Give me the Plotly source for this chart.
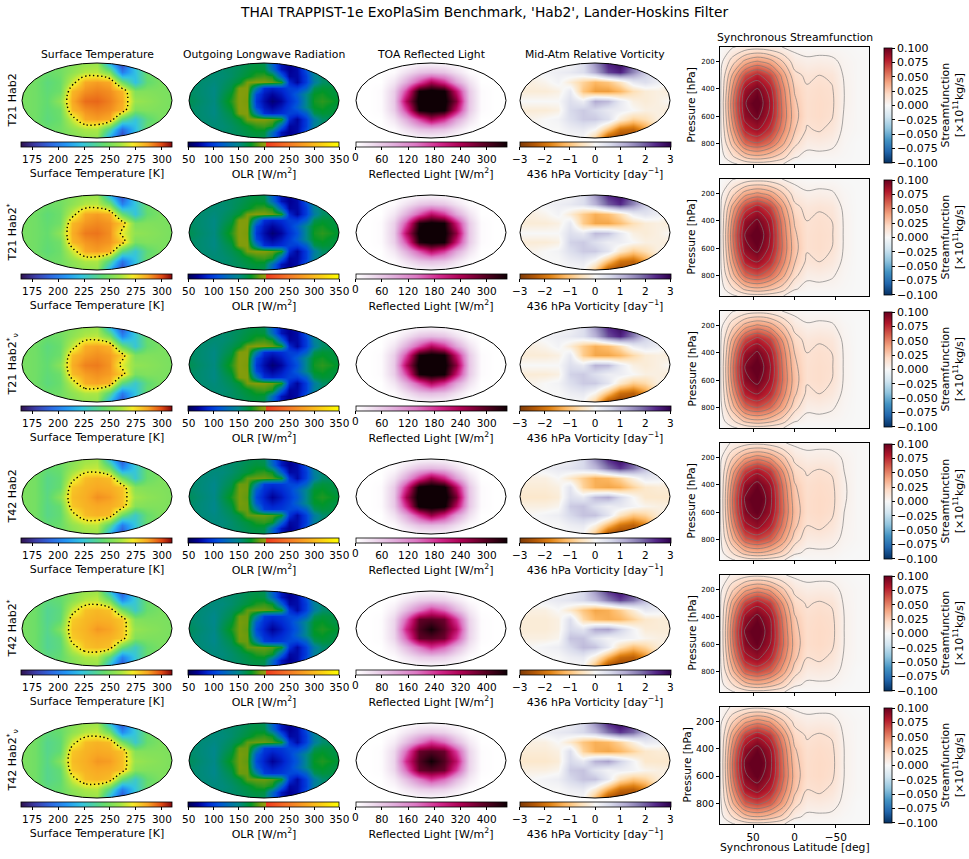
import plotly.graph_objects as go

# ==========================================
# Grids
# ==========================================

LON = [-180, -150, -120, -90, -60, -30, 0, 30, 60, 90, 120, 150, 180]
LAT = [90, 67.5, 45, 22.5, 0, -22.5, -45, -67.5, -90]
# finer grid used for the OLR crescent
LON_F = [-180, -160, -140, -120, -100, -80, -60, -40, -20, 0, 20, 40, 60, 80, 100, 120, 140, 160, 180]
LAT_F = [90, 75, 60, 45, 30, 15, 0, -15, -30, -45, -60, -75, -90]
SLAT = [90, 75, 60, 45, 30, 15, 0, -15, -30, -45, -60, -75, -90]
PRES = [93, 200, 300, 400, 500, 600, 700, 800, 900, 951]

ROW_LABELS = [
    "T21 Hab2", "T21 Hab2<sup>*</sup>", "T21 Hab2<sup>*</sup><sub>ν</sub>",
    "T42 Hab2", "T42 Hab2<sup>*</sup>", "T42 Hab2<sup>*</sup><sub>ν</sub>",
]
PANEL_TITLES = ["Surface Temperature", "Outgoing Longwave Radiation",
                "TOA Reflected Light", "Mid-Atm Relative Vorticity"]
CBAR_TITLES = ["Surface Temperature [K]", "OLR [W/m<sup>2</sup>]",
               "Reflected Light [W/m<sup>2</sup>]",
               "436 hPa Vorticity [day<sup>−1</sup>]"]

TS_TICKS = [175, 200, 225, 250, 275, 300]
OLR_TICKS = [50, 100, 150, 200, 250, 300, 350]
REFL_TICKS_A = [0, 60, 120, 180, 240, 300]
REFL_TICKS_B = [0, 80, 160, 240, 320, 400]
VORT_TICKS = [-3, -2, -1, 0, 1, 2, 3]
PSI_TICKS = [0.1, 0.075, 0.05, 0.025, 0.0, -0.025, -0.05, -0.075, -0.1]
LAT_TICKS = [50, 0, -50]
P_TICKS = [200, 400, 600, 800]

TS_RANGE = [165, 310]
OLR_RANGE = [50, 350]
REFL_MAX = [345, 345, 345, 345, 460, 460]
VORT_RANGE = [-3, 3]
PSI_RANGE = [-0.1, 0.1]

# ---- surface temperature [K]
TS_1 = [
    [250, 250, 250, 250, 252, 256, 258, 215, 180, 225, 248, 250, 250],
    [250, 250, 246, 248, 255, 263, 264, 250, 200, 222, 246, 250, 250],
    [249, 248, 242, 246, 266, 286, 288, 286, 248, 222, 244, 250, 250],
    [250, 248, 243, 247, 283, 290, 292, 290, 284, 252, 252, 251, 250],
    [250, 248, 244, 255, 286, 295, 296, 292, 286, 258, 255, 252, 250],
    [250, 248, 243, 247, 283, 290, 292, 290, 284, 251, 252, 251, 250],
    [249, 248, 242, 246, 266, 286, 288, 286, 243, 225, 242, 250, 249],
    [250, 250, 246, 248, 255, 262, 262, 236, 195, 220, 246, 250, 250],
    [250, 250, 250, 250, 252, 255, 256, 212, 178, 225, 248, 250, 250],
]
TS_2 = [
    [250, 250, 250, 250, 252, 256, 258, 218, 182, 226, 248, 250, 250],
    [250, 250, 247, 248, 255, 263, 264, 248, 202, 224, 246, 250, 250],
    [249, 248, 243, 247, 266, 286, 288, 285, 246, 224, 245, 250, 250],
    [250, 248, 244, 248, 283, 289, 291, 289, 280, 251, 252, 251, 250],
    [250, 248, 245, 255, 285, 293, 294, 290, 270, 256, 254, 252, 250],
    [250, 248, 244, 248, 283, 289, 291, 289, 280, 250, 252, 251, 250],
    [249, 248, 243, 247, 266, 286, 288, 285, 242, 226, 243, 250, 249],
    [250, 250, 247, 248, 255, 262, 262, 238, 198, 222, 246, 250, 250],
    [250, 250, 250, 250, 252, 255, 256, 214, 180, 226, 248, 250, 250],
]
TS_3 = [
    [250, 250, 250, 250, 252, 256, 258, 220, 184, 227, 248, 250, 250],
    [250, 250, 246, 248, 255, 263, 264, 248, 204, 225, 246, 250, 250],
    [249, 248, 242, 246, 265, 285, 287, 284, 246, 225, 245, 250, 250],
    [250, 248, 243, 247, 282, 288, 290, 288, 279, 251, 252, 251, 250],
    [250, 248, 244, 254, 285, 292, 293, 289, 269, 256, 254, 252, 250],
    [250, 248, 243, 247, 282, 288, 290, 288, 279, 250, 252, 251, 250],
    [249, 248, 242, 246, 265, 285, 287, 284, 242, 227, 243, 250, 249],
    [250, 250, 246, 248, 255, 262, 262, 239, 200, 223, 246, 250, 250],
    [250, 250, 250, 250, 252, 255, 256, 216, 182, 227, 248, 250, 250],
]
TS_4 = [
    [252, 252, 250, 249, 252, 258, 260, 220, 185, 228, 250, 252, 252],
    [252, 250, 244, 246, 256, 264, 265, 248, 205, 225, 246, 250, 252],
    [251, 249, 240, 244, 267, 282, 284, 282, 250, 226, 246, 251, 251],
    [251, 249, 240, 245, 280, 284, 286, 285, 281, 253, 252, 252, 251],
    [251, 249, 241, 254, 282, 285, 290, 288, 282, 259, 255, 253, 251],
    [251, 249, 240, 245, 280, 284, 286, 285, 281, 253, 252, 252, 251],
    [251, 249, 240, 244, 267, 282, 284, 282, 246, 228, 245, 251, 251],
    [252, 250, 244, 246, 256, 263, 264, 239, 200, 224, 246, 250, 252],
    [252, 252, 250, 249, 252, 257, 258, 216, 182, 228, 250, 252, 252],
]
TS_5 = [
    [252, 252, 250, 248, 251, 257, 259, 222, 186, 228, 250, 252, 252],
    [251, 249, 242, 244, 254, 263, 265, 248, 206, 226, 246, 250, 251],
    [250, 247, 238, 242, 266, 281, 283, 281, 250, 228, 246, 250, 250],
    [250, 247, 238, 243, 279, 283, 285, 284, 280, 252, 251, 251, 250],
    [250, 247, 239, 252, 281, 284, 289, 287, 281, 257, 254, 252, 250],
    [250, 247, 238, 243, 279, 283, 285, 284, 280, 252, 251, 251, 250],
    [250, 247, 238, 242, 266, 281, 283, 281, 246, 229, 245, 250, 250],
    [251, 249, 242, 244, 254, 262, 263, 240, 202, 225, 246, 250, 251],
    [252, 252, 250, 248, 251, 256, 257, 218, 184, 228, 250, 252, 252],
]
TS_6 = [
    [252, 252, 250, 249, 252, 257, 259, 221, 185, 228, 250, 252, 252],
    [252, 250, 243, 245, 255, 263, 265, 248, 205, 225, 246, 250, 252],
    [251, 248, 239, 243, 267, 282, 284, 282, 250, 227, 246, 251, 251],
    [251, 248, 239, 244, 280, 284, 286, 285, 281, 253, 252, 252, 251],
    [251, 248, 240, 253, 282, 285, 289, 288, 282, 258, 255, 253, 251],
    [251, 248, 239, 244, 280, 284, 286, 285, 281, 253, 252, 252, 251],
    [251, 248, 239, 243, 267, 282, 284, 282, 246, 228, 245, 251, 251],
    [252, 250, 243, 245, 255, 262, 263, 239, 201, 224, 246, 250, 252],
    [252, 252, 250, 249, 252, 256, 258, 217, 183, 228, 250, 252, 252],
]

# ---- outgoing longwave radiation [W/m2] on LAT_F x LON_F
# the three T21 runs are indistinguishable at this reading precision, as are the T42 runs
OLR_T21 = [
    [160, 160, 160, 160, 160, 160, 162, 165, 168, 165, 120, 80, 70, 80, 120, 155, 160, 160, 160],
    [160, 160, 160, 158, 158, 160, 163, 168, 172, 170, 130, 80, 68, 75, 110, 150, 160, 160, 160],
    [160, 160, 158, 156, 156, 160, 166, 172, 182, 185, 178, 120, 72, 74, 100, 145, 158, 160, 160],
    [160, 158, 156, 154, 158, 164, 172, 194, 197, 196, 192, 180, 90, 72, 100, 140, 160, 162, 162],
    [160, 158, 155, 152, 160, 168, 196, 197, 140, 92, 86, 92, 102, 100, 120, 165, 172, 170, 168],
    [162, 158, 155, 152, 163, 175, 198, 196, 105, 82, 72, 82, 98, 118, 150, 175, 178, 172, 168],
    [165, 160, 156, 153, 166, 180, 198, 194, 96, 76, 60, 72, 92, 110, 150, 178, 182, 178, 172],
    [162, 158, 155, 152, 163, 175, 198, 196, 105, 82, 72, 82, 98, 118, 150, 175, 178, 172, 168],
    [160, 158, 155, 152, 160, 168, 196, 197, 140, 92, 86, 92, 102, 100, 120, 165, 172, 170, 168],
    [160, 158, 156, 154, 158, 164, 172, 194, 197, 196, 192, 180, 90, 72, 100, 140, 160, 162, 162],
    [160, 160, 158, 156, 156, 160, 166, 172, 182, 185, 178, 120, 72, 74, 100, 145, 158, 160, 160],
    [160, 160, 160, 158, 158, 160, 163, 168, 172, 170, 130, 80, 68, 75, 110, 150, 160, 160, 160],
    [160, 160, 160, 160, 160, 160, 162, 165, 168, 165, 120, 80, 70, 80, 120, 155, 160, 160, 160],
]
OLR_T42 = [
    [158, 158, 158, 158, 158, 158, 160, 163, 166, 163, 120, 82, 70, 80, 118, 152, 158, 158, 158],
    [158, 158, 158, 156, 156, 158, 161, 166, 170, 168, 128, 82, 68, 76, 108, 148, 158, 158, 158],
    [158, 158, 156, 154, 154, 158, 164, 170, 180, 183, 176, 122, 74, 76, 100, 143, 156, 158, 158],
    [158, 156, 154, 152, 156, 162, 170, 190, 192, 192, 188, 176, 95, 75, 102, 140, 158, 160, 160],
    [158, 156, 153, 150, 158, 166, 192, 192, 146, 100, 94, 98, 106, 104, 122, 163, 170, 168, 166],
    [160, 156, 153, 150, 161, 172, 194, 192, 116, 92, 82, 90, 102, 122, 150, 173, 176, 170, 166],
    [163, 158, 154, 151, 164, 178, 194, 190, 106, 86, 70, 82, 98, 115, 150, 176, 180, 176, 170],
    [160, 156, 153, 150, 161, 172, 194, 192, 116, 92, 82, 90, 102, 122, 150, 173, 176, 170, 166],
    [158, 156, 153, 150, 158, 166, 192, 192, 146, 100, 94, 98, 106, 104, 122, 163, 170, 168, 166],
    [158, 156, 154, 152, 156, 162, 170, 190, 192, 192, 188, 176, 95, 75, 102, 140, 158, 160, 160],
    [158, 158, 156, 154, 154, 158, 164, 170, 180, 183, 176, 122, 74, 76, 100, 143, 156, 158, 158],
    [158, 158, 158, 156, 156, 158, 161, 166, 170, 168, 128, 82, 68, 76, 108, 148, 158, 158, 158],
    [158, 158, 158, 158, 158, 158, 160, 163, 166, 163, 120, 82, 70, 80, 118, 152, 158, 158, 158],
]

# ---- TOA reflected light [W/m2]
REFL_1 = [
    [0, 0, 0, 0, 0, 10, 12, 10, 0, 0, 0, 0, 0],
    [0, 0, 0, 5, 35, 65, 75, 65, 35, 5, 0, 0, 0],
    [0, 0, 0, 30, 90, 170, 240, 190, 100, 35, 0, 0, 0],
    [0, 0, 5, 55, 175, 345, 360, 350, 220, 60, 5, 0, 0],
    [0, 0, 5, 60, 235, 360, 370, 360, 270, 65, 5, 0, 0],
    [0, 0, 5, 55, 175, 345, 360, 350, 220, 60, 5, 0, 0],
    [0, 0, 0, 30, 90, 170, 240, 190, 100, 35, 0, 0, 0],
    [0, 0, 0, 5, 35, 65, 75, 65, 35, 5, 0, 0, 0],
    [0, 0, 0, 0, 0, 10, 12, 10, 0, 0, 0, 0, 0],
]
REFL_2 = [
    [0, 0, 0, 0, 0, 9, 11, 9, 0, 0, 0, 0, 0],
    [0, 0, 0, 5, 33, 62, 72, 62, 33, 5, 0, 0, 0],
    [0, 0, 0, 28, 86, 160, 225, 180, 95, 33, 0, 0, 0],
    [0, 0, 5, 52, 165, 335, 355, 345, 210, 58, 5, 0, 0],
    [0, 0, 5, 58, 225, 355, 368, 355, 260, 62, 5, 0, 0],
    [0, 0, 5, 52, 165, 335, 355, 345, 210, 58, 5, 0, 0],
    [0, 0, 0, 28, 86, 160, 225, 180, 95, 33, 0, 0, 0],
    [0, 0, 0, 5, 33, 62, 72, 62, 33, 5, 0, 0, 0],
    [0, 0, 0, 0, 0, 9, 11, 9, 0, 0, 0, 0, 0],
]
REFL_3 = [
    [0, 0, 0, 0, 0, 10, 12, 10, 0, 0, 0, 0, 0],
    [0, 0, 0, 5, 34, 64, 74, 64, 34, 5, 0, 0, 0],
    [0, 0, 0, 29, 88, 165, 232, 185, 98, 34, 0, 0, 0],
    [0, 0, 5, 54, 170, 340, 358, 348, 215, 59, 5, 0, 0],
    [0, 0, 5, 59, 230, 358, 369, 358, 265, 64, 5, 0, 0],
    [0, 0, 5, 54, 170, 340, 358, 348, 215, 59, 5, 0, 0],
    [0, 0, 0, 29, 88, 165, 232, 185, 98, 34, 0, 0, 0],
    [0, 0, 0, 5, 34, 64, 74, 64, 34, 5, 0, 0, 0],
    [0, 0, 0, 0, 0, 10, 12, 10, 0, 0, 0, 0, 0],
]
REFL_4 = [
    [0, 0, 0, 0, 0, 11, 13, 11, 0, 0, 0, 0, 0],
    [0, 0, 0, 6, 38, 68, 78, 68, 38, 6, 0, 0, 0],
    [0, 0, 0, 32, 95, 185, 255, 200, 105, 36, 0, 0, 0],
    [0, 0, 5, 58, 190, 355, 365, 355, 230, 62, 5, 0, 0],
    [0, 0, 5, 62, 245, 365, 375, 365, 280, 66, 5, 0, 0],
    [0, 0, 5, 58, 190, 355, 365, 355, 230, 62, 5, 0, 0],
    [0, 0, 0, 32, 95, 185, 255, 200, 105, 36, 0, 0, 0],
    [0, 0, 0, 6, 38, 68, 78, 68, 38, 6, 0, 0, 0],
    [0, 0, 0, 0, 0, 11, 13, 11, 0, 0, 0, 0, 0],
]
REFL_5 = [
    [0, 0, 0, 0, 0, 10, 12, 10, 0, 0, 0, 0, 0],
    [0, 0, 0, 5, 38, 70, 80, 70, 38, 5, 0, 0, 0],
    [0, 0, 0, 32, 100, 180, 250, 200, 110, 36, 0, 0, 0],
    [0, 0, 5, 60, 200, 385, 395, 375, 240, 64, 5, 0, 0],
    [0, 0, 5, 65, 260, 405, 455, 395, 300, 70, 5, 0, 0],
    [0, 0, 5, 60, 200, 385, 395, 375, 240, 64, 5, 0, 0],
    [0, 0, 0, 32, 100, 180, 250, 200, 110, 36, 0, 0, 0],
    [0, 0, 0, 5, 38, 70, 80, 70, 38, 5, 0, 0, 0],
    [0, 0, 0, 0, 0, 10, 12, 10, 0, 0, 0, 0, 0],
]
REFL_6 = [
    [0, 0, 0, 0, 0, 9, 11, 9, 0, 0, 0, 0, 0],
    [0, 0, 0, 5, 36, 67, 78, 67, 36, 5, 0, 0, 0],
    [0, 0, 0, 30, 96, 175, 245, 195, 106, 34, 0, 0, 0],
    [0, 0, 5, 58, 195, 380, 398, 378, 235, 62, 5, 0, 0],
    [0, 0, 5, 63, 255, 400, 460, 400, 295, 68, 5, 0, 0],
    [0, 0, 5, 58, 195, 380, 398, 378, 235, 62, 5, 0, 0],
    [0, 0, 0, 30, 96, 175, 245, 195, 106, 34, 0, 0, 0],
    [0, 0, 0, 5, 36, 67, 78, 67, 36, 5, 0, 0, 0],
    [0, 0, 0, 0, 0, 9, 11, 9, 0, 0, 0, 0, 0],
]

# ---- 436 hPa relative vorticity [1/day]
VORT_1 = [
    [0.0, 0.0, 0.0, 0.0, 0.0, 0.5, 1.5, 2.5, 2.8, 2.0, 1.0, 0.4, 0.0],
    [0.0, 0.0, 0.1, 0.2, 0.3, 0.5, 1.2, 2.2, 2.5, 1.6, 0.8, 0.3, 0.0],
    [-0.2, -0.2, -0.1, 0.1, -0.3, -0.8, -1.2, -1.0, -0.5, 0.3, 0.5, 0.2, -0.2],
    [-0.3, -0.3, -0.3, -0.2, 0.3, -1.0, -1.5, -1.5, -1.2, -0.6, -0.3, -0.2, -0.3],
    [0.0, 0.0, 0.0, 0.0, 0.5, 0.2, 1.2, 1.0, 0.3, -0.2, -0.3, -0.2, 0.0],
    [-0.3, -0.3, -0.3, -0.2, 0.6, 0.8, 0.6, 0.3, 0.2, 0.0, -0.2, -0.2, -0.3],
    [-0.1, -0.1, 0.0, 0.1, 0.5, 0.8, 0.8, 0.5, -0.3, -0.8, -0.6, -0.2, -0.1],
    [0.0, 0.0, 0.0, 0.0, 0.2, 0.3, 0.0, -1.0, -2.0, -2.2, -1.5, -0.5, 0.0],
    [0.0, 0.0, 0.0, 0.0, 0.0, 0.0, -0.8, -2.5, -2.8, -2.5, -1.5, -0.5, 0.0],
]
VORT_2 = [
    [0.0, 0.0, 0.0, 0.0, 0.1, 0.5, 1.4, 2.4, 2.7, 2.0, 1.0, 0.4, 0.0],
    [0.0, 0.0, 0.1, 0.2, 0.3, 0.5, 1.1, 2.0, 2.4, 1.6, 0.8, 0.3, 0.0],
    [-0.2, -0.2, -0.1, 0.1, -0.3, -0.9, -1.3, -1.1, -0.6, 0.2, 0.4, 0.2, -0.2],
    [-0.3, -0.3, -0.3, -0.2, 0.3, -0.9, -1.4, -1.4, -1.1, -0.6, -0.3, -0.2, -0.3],
    [0.0, 0.0, 0.0, 0.0, 0.5, 0.3, 1.0, 0.9, 0.3, -0.2, -0.3, -0.2, 0.0],
    [-0.3, -0.3, -0.3, -0.2, 0.7, 0.8, 0.5, 0.2, 0.2, 0.0, -0.2, -0.2, -0.3],
    [-0.1, -0.1, 0.0, 0.1, 0.5, 0.8, 0.8, 0.4, -0.4, -0.9, -0.6, -0.2, -0.1],
    [0.0, 0.0, 0.0, 0.0, 0.2, 0.3, -0.1, -1.1, -2.0, -2.2, -1.5, -0.5, 0.0],
    [0.0, 0.0, 0.0, 0.0, 0.0, 0.0, -0.9, -2.5, -2.8, -2.5, -1.5, -0.5, 0.0],
]
VORT_3 = [
    [0.0, 0.0, 0.0, 0.0, 0.1, 0.5, 1.4, 2.4, 2.8, 2.1, 1.0, 0.4, 0.0],
    [0.0, 0.0, 0.1, 0.2, 0.3, 0.5, 1.1, 2.1, 2.5, 1.7, 0.8, 0.3, 0.0],
    [-0.2, -0.2, -0.1, 0.1, -0.3, -0.9, -1.3, -1.1, -0.6, 0.2, 0.4, 0.2, -0.2],
    [-0.3, -0.3, -0.3, -0.2, 0.3, -0.9, -1.4, -1.4, -1.2, -0.7, -0.3, -0.2, -0.3],
    [0.0, 0.0, 0.0, 0.0, 0.5, 0.3, 1.1, 1.0, 0.3, -0.2, -0.3, -0.2, 0.0],
    [-0.3, -0.3, -0.3, -0.2, 0.7, 0.8, 0.5, 0.2, 0.2, 0.0, -0.2, -0.2, -0.3],
    [-0.1, -0.1, 0.0, 0.1, 0.5, 0.8, 0.8, 0.4, -0.4, -0.9, -0.7, -0.2, -0.1],
    [0.0, 0.0, 0.0, 0.0, 0.2, 0.3, -0.1, -1.1, -2.1, -2.3, -1.6, -0.5, 0.0],
    [0.0, 0.0, 0.0, 0.0, 0.0, 0.0, -0.9, -2.6, -2.9, -2.6, -1.6, -0.5, 0.0],
]
VORT_4 = [
    [0.0, 0.0, 0.0, 0.0, 0.2, 0.6, 1.5, 2.4, 2.8, 2.2, 1.2, 0.5, 0.0],
    [0.1, 0.1, 0.2, 0.3, 0.4, 0.6, 1.0, 1.8, 2.3, 1.8, 1.0, 0.4, 0.1],
    [-0.2, -0.2, -0.2, 0.0, -0.4, -0.9, -1.3, -1.2, -0.8, -0.2, 0.3, 0.2, -0.2],
    [-0.3, -0.3, -0.3, -0.2, 0.4, -0.8, -1.3, -1.4, -1.3, -0.8, -0.4, -0.3, -0.3],
    [-0.4, -0.4, -0.4, -0.3, 0.5, 0.3, 1.0, 1.2, 0.6, 0.0, -0.4, -0.4, -0.4],
    [-0.2, -0.2, -0.2, -0.1, 0.8, 0.9, 0.5, 0.2, 0.3, 0.1, -0.1, -0.2, -0.2],
    [0.0, 0.0, 0.1, 0.2, 0.6, 0.9, 0.9, 0.4, -0.5, -1.0, -0.8, -0.3, 0.0],
    [0.0, 0.0, 0.0, 0.0, 0.2, 0.3, -0.2, -1.2, -2.0, -2.3, -1.8, -0.6, 0.0],
    [0.0, 0.0, 0.0, 0.0, 0.0, 0.0, -1.0, -2.6, -2.9, -2.6, -1.6, -0.5, 0.0],
]
VORT_5 = [
    [0.0, 0.0, 0.0, 0.0, 0.2, 0.6, 1.4, 2.3, 2.7, 2.2, 1.2, 0.5, 0.0],
    [0.1, 0.1, 0.2, 0.3, 0.4, 0.6, 1.0, 1.7, 2.2, 1.8, 1.0, 0.4, 0.1],
    [-0.2, -0.2, -0.2, 0.0, -0.4, -1.0, -1.4, -1.3, -0.9, -0.3, 0.3, 0.2, -0.2],
    [-0.3, -0.3, -0.3, -0.2, 0.5, -0.7, -1.2, -1.3, -1.2, -0.8, -0.4, -0.3, -0.3],
    [-0.3, -0.3, -0.3, -0.2, 0.6, 0.4, 1.2, 1.3, 0.7, 0.1, -0.3, -0.3, -0.3],
    [-0.2, -0.2, -0.2, -0.1, 0.9, 0.9, 0.4, 0.1, 0.2, 0.1, -0.1, -0.2, -0.2],
    [0.0, 0.0, 0.1, 0.2, 0.6, 1.0, 0.9, 0.3, -0.6, -1.1, -0.8, -0.3, 0.0],
    [0.0, 0.0, 0.0, 0.0, 0.2, 0.3, -0.3, -1.3, -2.1, -2.3, -1.7, -0.6, 0.0],
    [0.0, 0.0, 0.0, 0.0, 0.0, 0.0, -1.1, -2.6, -2.9, -2.6, -1.6, -0.5, 0.0],
]
VORT_6 = [
    [0.0, 0.0, 0.0, 0.0, 0.2, 0.6, 1.5, 2.4, 2.8, 2.3, 1.2, 0.5, 0.0],
    [0.1, 0.1, 0.2, 0.3, 0.4, 0.6, 1.0, 1.8, 2.3, 1.9, 1.0, 0.4, 0.1],
    [-0.2, -0.2, -0.2, 0.0, -0.4, -1.0, -1.3, -1.2, -0.8, -0.2, 0.3, 0.2, -0.2],
    [-0.3, -0.3, -0.3, -0.2, 0.5, -0.8, -1.3, -1.4, -1.2, -0.8, -0.4, -0.3, -0.3],
    [-0.4, -0.4, -0.4, -0.3, 0.6, 0.3, 1.1, 1.3, 0.7, 0.1, -0.4, -0.4, -0.4],
    [-0.2, -0.2, -0.2, -0.1, 0.8, 0.9, 0.4, 0.1, 0.2, 0.1, -0.1, -0.2, -0.2],
    [0.0, 0.0, 0.1, 0.2, 0.6, 0.9, 0.9, 0.3, -0.6, -1.0, -0.8, -0.3, 0.0],
    [0.0, 0.0, 0.0, 0.0, 0.2, 0.3, -0.3, -1.3, -2.1, -2.3, -1.8, -0.6, 0.0],
    [0.0, 0.0, 0.0, 0.0, 0.0, 0.0, -1.1, -2.6, -2.9, -2.6, -1.6, -0.5, 0.0],
]

# ---- synchronous streamfunction [1e11 kg/s], rows = PRES, cols = SLAT
PSI_1 = [
    [0.000, 0.004, 0.008, 0.010, 0.008, 0.005, 0.002, 0.001, 0.001, 0.001, 0.001, 0.000, 0.000],
    [0.001, 0.020, 0.038, 0.046, 0.040, 0.026, 0.010, 0.007, 0.008, 0.007, 0.003, 0.001, 0.000],
    [0.002, 0.036, 0.066, 0.078, 0.066, 0.042, 0.018, 0.013, 0.015, 0.013, 0.004, 0.001, 0.000],
    [0.002, 0.046, 0.086, 0.096, 0.080, 0.050, 0.024, 0.016, 0.018, 0.016, 0.005, 0.001, 0.000],
    [0.002, 0.052, 0.094, 0.104, 0.085, 0.053, 0.027, 0.017, 0.019, 0.017, 0.005, 0.001, 0.000],
    [0.002, 0.049, 0.090, 0.098, 0.082, 0.054, 0.029, 0.017, 0.019, 0.016, 0.004, 0.001, 0.000],
    [0.002, 0.041, 0.077, 0.085, 0.072, 0.049, 0.026, 0.014, 0.016, 0.012, 0.003, 0.001, 0.000],
    [0.001, 0.029, 0.057, 0.064, 0.055, 0.038, 0.018, 0.008, 0.009, 0.007, 0.002, 0.000, 0.000],
    [0.000, 0.013, 0.026, 0.031, 0.027, 0.019, 0.006, 0.002, 0.002, 0.002, 0.001, 0.000, 0.000],
    [0.000, 0.003, 0.008, 0.010, 0.009, 0.006, -0.004, 0.000, 0.000, 0.000, 0.000, 0.000, 0.000],
]
PSI_2 = [
    [0.000, 0.004, 0.008, 0.010, 0.009, 0.005, 0.002, 0.001, 0.001, 0.001, 0.000, 0.000, 0.000],
    [0.001, 0.021, 0.040, 0.047, 0.041, 0.027, 0.010, 0.006, 0.007, 0.006, 0.002, 0.000, 0.000],
    [0.002, 0.038, 0.068, 0.080, 0.068, 0.043, 0.018, 0.012, 0.014, 0.012, 0.003, 0.000, 0.000],
    [0.002, 0.048, 0.088, 0.097, 0.082, 0.051, 0.024, 0.015, 0.017, 0.015, 0.004, 0.000, 0.000],
    [0.002, 0.053, 0.095, 0.105, 0.086, 0.054, 0.027, 0.016, 0.018, 0.016, 0.004, 0.000, 0.000],
    [0.002, 0.050, 0.091, 0.099, 0.083, 0.055, 0.029, 0.016, 0.018, 0.015, 0.004, 0.000, 0.000],
    [0.002, 0.042, 0.078, 0.086, 0.073, 0.050, 0.026, 0.013, 0.015, 0.011, 0.003, 0.000, 0.000],
    [0.001, 0.030, 0.058, 0.065, 0.056, 0.039, 0.018, 0.007, 0.008, 0.006, 0.002, 0.000, 0.000],
    [0.000, 0.013, 0.027, 0.032, 0.028, 0.020, 0.006, 0.002, 0.002, 0.002, 0.001, 0.000, 0.000],
    [0.000, 0.003, 0.008, 0.010, 0.009, 0.006, -0.003, 0.000, 0.000, 0.000, 0.000, 0.000, 0.000],
]
PSI_3 = [
    [0.000, 0.004, 0.008, 0.010, 0.009, 0.005, 0.002, 0.001, 0.001, 0.001, 0.000, 0.000, 0.000],
    [0.001, 0.021, 0.039, 0.047, 0.041, 0.027, 0.011, 0.006, 0.007, 0.006, 0.002, 0.000, 0.000],
    [0.002, 0.037, 0.067, 0.079, 0.068, 0.044, 0.019, 0.012, 0.014, 0.012, 0.003, 0.000, 0.000],
    [0.002, 0.047, 0.087, 0.097, 0.082, 0.052, 0.025, 0.015, 0.017, 0.015, 0.004, 0.000, 0.000],
    [0.002, 0.052, 0.095, 0.104, 0.087, 0.055, 0.028, 0.016, 0.018, 0.016, 0.004, 0.000, 0.000],
    [0.002, 0.050, 0.091, 0.099, 0.084, 0.056, 0.030, 0.016, 0.018, 0.015, 0.004, 0.000, 0.000],
    [0.002, 0.042, 0.078, 0.086, 0.074, 0.051, 0.027, 0.013, 0.015, 0.011, 0.003, 0.000, 0.000],
    [0.001, 0.030, 0.058, 0.065, 0.057, 0.040, 0.019, 0.007, 0.008, 0.006, 0.002, 0.000, 0.000],
    [0.000, 0.013, 0.027, 0.032, 0.028, 0.020, 0.006, 0.002, 0.002, 0.002, 0.001, 0.000, 0.000],
    [0.000, 0.003, 0.008, 0.010, 0.009, 0.006, -0.003, 0.000, 0.000, 0.000, 0.000, 0.000, 0.000],
]
PSI_4 = [
    [0.001, 0.006, 0.010, 0.012, 0.010, 0.006, 0.003, 0.002, 0.002, 0.002, 0.001, 0.001, 0.000],
    [0.002, 0.024, 0.042, 0.050, 0.044, 0.029, 0.012, 0.008, 0.009, 0.008, 0.004, 0.001, 0.000],
    [0.003, 0.040, 0.070, 0.082, 0.071, 0.046, 0.020, 0.014, 0.016, 0.014, 0.005, 0.001, 0.000],
    [0.003, 0.050, 0.089, 0.099, 0.086, 0.055, 0.026, 0.017, 0.019, 0.017, 0.006, 0.001, 0.000],
    [0.003, 0.055, 0.096, 0.106, 0.090, 0.058, 0.029, 0.018, 0.020, 0.018, 0.006, 0.001, 0.000],
    [0.003, 0.053, 0.093, 0.101, 0.087, 0.059, 0.031, 0.018, 0.020, 0.017, 0.005, 0.001, 0.000],
    [0.003, 0.045, 0.081, 0.089, 0.077, 0.053, 0.028, 0.015, 0.017, 0.013, 0.004, 0.001, 0.000],
    [0.002, 0.033, 0.061, 0.068, 0.060, 0.042, 0.020, 0.009, 0.010, 0.008, 0.003, 0.001, 0.000],
    [0.001, 0.015, 0.029, 0.034, 0.030, 0.022, 0.007, 0.003, 0.003, 0.003, 0.001, 0.000, 0.000],
    [0.000, 0.004, 0.009, 0.011, 0.010, 0.007, -0.003, 0.001, 0.001, 0.001, 0.000, 0.000, 0.000],
]
PSI_5 = [
    [0.001, 0.006, 0.010, 0.012, 0.010, 0.006, 0.003, 0.002, 0.002, 0.002, 0.001, 0.000, 0.000],
    [0.002, 0.023, 0.041, 0.049, 0.043, 0.028, 0.012, 0.008, 0.009, 0.008, 0.003, 0.001, 0.000],
    [0.003, 0.039, 0.069, 0.081, 0.070, 0.045, 0.020, 0.014, 0.016, 0.014, 0.004, 0.001, 0.000],
    [0.003, 0.049, 0.088, 0.098, 0.085, 0.054, 0.026, 0.017, 0.019, 0.017, 0.005, 0.001, 0.000],
    [0.003, 0.054, 0.096, 0.105, 0.089, 0.057, 0.029, 0.018, 0.020, 0.018, 0.005, 0.001, 0.000],
    [0.003, 0.052, 0.092, 0.100, 0.086, 0.058, 0.031, 0.018, 0.020, 0.017, 0.005, 0.001, 0.000],
    [0.003, 0.044, 0.080, 0.088, 0.076, 0.052, 0.028, 0.015, 0.017, 0.013, 0.004, 0.001, 0.000],
    [0.002, 0.032, 0.060, 0.067, 0.059, 0.041, 0.020, 0.009, 0.010, 0.008, 0.003, 0.000, 0.000],
    [0.001, 0.014, 0.028, 0.033, 0.029, 0.021, 0.007, 0.003, 0.003, 0.003, 0.001, 0.000, 0.000],
    [0.000, 0.004, 0.009, 0.011, 0.010, 0.007, -0.003, 0.001, 0.001, 0.001, 0.000, 0.000, 0.000],
]
PSI_6 = [
    [0.001, 0.006, 0.010, 0.012, 0.010, 0.006, 0.003, 0.002, 0.002, 0.002, 0.001, 0.000, 0.000],
    [0.002, 0.024, 0.042, 0.050, 0.044, 0.028, 0.012, 0.008, 0.009, 0.008, 0.003, 0.001, 0.000],
    [0.003, 0.040, 0.070, 0.082, 0.071, 0.046, 0.020, 0.014, 0.016, 0.014, 0.004, 0.001, 0.000],
    [0.003, 0.050, 0.089, 0.099, 0.086, 0.055, 0.026, 0.017, 0.019, 0.017, 0.005, 0.001, 0.000],
    [0.003, 0.055, 0.097, 0.106, 0.090, 0.058, 0.029, 0.018, 0.020, 0.018, 0.005, 0.001, 0.000],
    [0.003, 0.053, 0.093, 0.101, 0.087, 0.059, 0.031, 0.018, 0.020, 0.017, 0.005, 0.001, 0.000],
    [0.003, 0.045, 0.081, 0.089, 0.077, 0.053, 0.028, 0.015, 0.017, 0.013, 0.004, 0.001, 0.000],
    [0.002, 0.033, 0.061, 0.068, 0.060, 0.042, 0.020, 0.009, 0.010, 0.008, 0.003, 0.000, 0.000],
    [0.001, 0.015, 0.029, 0.034, 0.030, 0.022, 0.007, 0.003, 0.003, 0.003, 0.001, 0.000, 0.000],
    [0.000, 0.004, 0.009, 0.011, 0.010, 0.007, -0.003, 0.001, 0.001, 0.001, 0.000, 0.000, 0.000],
]

TS = [TS_1, TS_2, TS_3, TS_4, TS_5, TS_6]
OLR = [OLR_T21, OLR_T21, OLR_T21, OLR_T42, OLR_T42, OLR_T42]
REFL = [REFL_1, REFL_2, REFL_3, REFL_4, REFL_5, REFL_6]
VORT = [VORT_1, VORT_2, VORT_3, VORT_4, VORT_5, VORT_6]
PSI = [PSI_1, PSI_2, PSI_3, PSI_4, PSI_5, PSI_6]

# ==========================================
# Colour maps
# ==========================================

TS_CS = [[0.0, "rgb(48,18,80)"], [0.1, "rgb(60,62,170)"], [0.2, "rgb(45,105,225)"],
         [0.3, "rgb(35,150,245)"], [0.4, "rgb(50,195,225)"], [0.55, "rgb(100,220,110)"],
         [0.66, "rgb(165,230,70)"], [0.74, "rgb(245,235,40)"], [0.84, "rgb(248,165,35)"],
         [0.93, "rgb(225,75,20)"], [1.0, "rgb(130,5,10)"]]
OLR_CS = [[0.0, "rgb(0,0,80)"], [0.067, "rgb(0,0,150)"], [0.133, "rgb(0,40,210)"],
          [0.2, "rgb(0,80,220)"], [0.267, "rgb(0,110,180)"], [0.333, "rgb(0,135,140)"],
          [0.417, "rgb(0,150,40)"], [0.483, "rgb(125,155,10)"], [0.516, "rgb(150,158,20)"],
          [0.52, "rgb(240,60,30)"], [0.667, "rgb(245,120,40)"], [0.833, "rgb(250,185,30)"],
          [1.0, "rgb(255,255,0)"]]
REFL_CS = [[0.0, "rgb(255,255,255)"], [0.1, "rgb(240,225,240)"], [0.25, "rgb(225,175,220)"],
           [0.4, "rgb(220,120,195)"], [0.55, "rgb(210,40,140)"], [0.7, "rgb(170,0,80)"],
           [0.85, "rgb(90,0,35)"], [1.0, "rgb(15,0,5)"]]
VORT_CS = [[0.0, "rgb(127,59,8)"], [0.1, "rgb(179,88,6)"], [0.2, "rgb(224,130,20)"],
           [0.3, "rgb(253,184,99)"], [0.4, "rgb(254,224,182)"], [0.5, "rgb(247,247,247)"],
           [0.6, "rgb(216,218,235)"], [0.7, "rgb(178,171,210)"], [0.8, "rgb(128,115,172)"],
           [0.9, "rgb(84,39,136)"], [1.0, "rgb(45,0,75)"]]
PSI_CS = [[0.0, "rgb(5,48,97)"], [0.1, "rgb(33,102,172)"], [0.2, "rgb(67,147,195)"],
          [0.3, "rgb(146,197,222)"], [0.4, "rgb(209,229,240)"], [0.5, "rgb(247,247,247)"],
          [0.6, "rgb(253,219,199)"], [0.7, "rgb(244,165,130)"], [0.8, "rgb(214,96,77)"],
          [0.9, "rgb(178,24,43)"], [1.0, "rgb(103,0,31)"]]

# ==========================================
# Layout geometry (pixels)
# ==========================================

W, H = 969, 859
FONT = "DejaVu Sans"
MAP_LEFT = [22, 189, 356, 520]
MAP_W, MAP_H = 150, 75
MAP_TOP = 63
ROW_STEP = 132
PAD = 2
XR = 180 + PAD * 360 / MAP_W
YR = 90 + PAD * 180 / MAP_H
CB_TOP = 142
CB_LABEL_DY = 15
SF_LEFT, SF_RIGHT = 720, 869
SF_TOP, SF_BOT = 47, 164
K = 0.5523

MASK_PATH = (
    f"M {-XR},{-YR} L {XR},{-YR} L {XR},{YR} L {-XR},{YR} Z "
    f"M 180,0 C 180,{K*90} {K*180},90 0,90 C {-K*180},90 -180,{K*90} -180,0 "
    f"C -180,{-K*90} {-K*180},-90 0,-90 C {K*180},-90 180,{-K*90} 180,0 Z"
)


def px(x):
    return x / W


def py(y):
    return 1 - y / H


def widen(zr):
    # a hair of slack so the end ticks are never clipped off the colour bar
    eps = (zr[1] - zr[0]) * 1e-3
    return zr[0] - eps, zr[1] + eps


def hbar(left, top, ticks, labels, title):
    return dict(
        orientation="h", x=px(left + MAP_W / 2), xanchor="center",
        y=py(top), yanchor="top", len=MAP_W + 1, lenmode="pixels",
        thickness=5, xpad=0, ypad=0, outlinewidth=0.8, outlinecolor="black",
        ticks="outside", ticklen=3, tickwidth=0.8, tickcolor="black",
        tickmode="array", tickvals=ticks, ticktext=labels,
        ticklabeloverflow="allow",
        tickfont=dict(family=FONT, size=10.5, color="black"),
        title=dict(text=title, side="bottom",
                   font=dict(family=FONT, size=11, color="black")),
    )


fig = go.Figure()
layout = {}
shapes = []
annotations = []
count = [0]


def new_axes():
    count[0] += 1
    s = "" if count[0] == 1 else str(count[0])
    return "x" + s, "y" + s, "xaxis" + s, "yaxis" + s


def tick_labels(ticks):
    return [f"{t:g}".replace("-", "−") for t in ticks]


for r in range(6):
    top = MAP_TOP + ROW_STEP * r
    refl_ticks = REFL_TICKS_A if REFL_MAX[r] < 400 else REFL_TICKS_B
    # plotly drops the "0" at the reflected-light bar's left end, so it is
    # written as a plain label right under that end instead
    refl_labels = [""] + tick_labels(refl_ticks[1:])
    fields = [
        (LON, LAT, TS[r], TS_CS, TS_RANGE, TS_TICKS, tick_labels(TS_TICKS)),
        (LON_F, LAT_F, OLR[r], OLR_CS, OLR_RANGE, OLR_TICKS, tick_labels(OLR_TICKS)),
        (LON, LAT, REFL[r], REFL_CS, [0, REFL_MAX[r]], refl_ticks, refl_labels),
        (LON, LAT, VORT[r], VORT_CS, VORT_RANGE, VORT_TICKS, tick_labels(VORT_TICKS)),
    ]
    for c, (gx, gy, grid, cs, zr, ticks, labels) in enumerate(fields):
        xa, ya, xk, yk = new_axes()
        left = MAP_LEFT[c]
        zlo, zhi = widen(zr)
        layout[xk] = dict(domain=[px(left - PAD), px(left + MAP_W + PAD)],
                          range=[-XR, XR], visible=False, anchor=ya, fixedrange=True)
        layout[yk] = dict(domain=[py(top + MAP_H + PAD), py(top - PAD)],
                          range=[-YR, YR], visible=False, anchor=xa, fixedrange=True)
        fig.add_trace(go.Heatmap(
            x=gx, y=gy[::-1], z=grid[::-1], xaxis=xa, yaxis=ya,
            zmin=zlo, zmax=zhi, colorscale=cs, zsmooth="best",
            hoverinfo="skip",
            colorbar=hbar(left, CB_TOP + ROW_STEP * r, ticks, labels, CBAR_TITLES[c]),
        ))
        if c == 0:
            fig.add_trace(go.Contour(
                x=gx, y=gy[::-1], z=grid[::-1], xaxis=xa, yaxis=ya,
                showscale=False, hoverinfo="skip",
                contours=dict(start=273, end=273, size=10, coloring="none"),
                line=dict(color="black", width=1.4, dash="1.4px,2.6px", smoothing=1.3),
            ))
        if c == 2:
            annotations.append(dict(
                text=f"{ticks[0]:g}", x=px(left - 0.5),
                y=py(CB_TOP + CB_LABEL_DY + ROW_STEP * r), font=dict(size=10.5)))
        shapes.append(dict(type="path", path=MASK_PATH, xref=xa, yref=ya,
                           fillcolor="white", fillrule="evenodd",
                           line=dict(width=0), layer="above"))
        shapes.append(dict(type="circle", xref=xa, yref=ya, x0=-180, x1=180,
                           y0=-90, y1=90, line=dict(color="black", width=1),
                           layer="above"))

    # ---- streamfunction panel
    xa, ya, xk, yk = new_axes()
    last = r == 5
    tick_size = 9.5 if last else 7
    layout[xk] = dict(
        domain=[px(SF_LEFT), px(SF_RIGHT)], range=[90, -90], anchor=ya,
        tickmode="array", tickvals=LAT_TICKS, ticks="outside", ticklen=3,
        tickcolor="black", showticklabels=last, showline=True, mirror=True,
        linecolor="black", linewidth=1, showgrid=False, zeroline=False,
        tickfont=dict(family=FONT, size=10.5, color="black"), fixedrange=True,
    )
    layout[yk] = dict(
        domain=[py(SF_BOT + ROW_STEP * r), py(SF_TOP + ROW_STEP * r)],
        range=[PRES[-1], PRES[0]], anchor=xa, tickmode="array",
        tickvals=P_TICKS, ticks="outside", ticklen=3, tickcolor="black",
        showline=True, mirror=True, linecolor="black", linewidth=1,
        showgrid=False, zeroline=False,
        tickfont=dict(family=FONT, size=tick_size, color="black"), fixedrange=True,
    )
    zpsi = [row[::-1] for row in PSI[r]]
    plo, phi = widen(PSI_RANGE)
    fig.add_trace(go.Heatmap(
        x=SLAT[::-1], y=PRES, z=zpsi, xaxis=xa, yaxis=ya,
        zmin=plo, zmax=phi, colorscale=PSI_CS, zsmooth="best",
        hoverinfo="skip",
        colorbar=dict(
            orientation="v", x=px(884), xanchor="left",
            y=py((SF_TOP + SF_BOT) / 2 + ROW_STEP * r), yanchor="middle",
            len=SF_BOT - SF_TOP - 2, lenmode="pixels", thickness=8,
            xpad=0, ypad=0, outlinewidth=0.8, outlinecolor="black",
            ticks="outside", ticklen=3, tickwidth=0.8, tickcolor="black",
            tickmode="array", tickvals=PSI_TICKS, tickformat=".3f",
            ticklabeloverflow="allow",
            tickfont=dict(family=FONT, size=11, color="black"),
        ),
    ))
    fig.add_trace(go.Contour(
        x=SLAT[::-1], y=PRES, z=zpsi, xaxis=xa, yaxis=ya,
        showscale=False, hoverinfo="skip",
        contours=dict(start=-0.095, end=0.095, size=0.01, coloring="none"),
        line=dict(color="rgba(120,120,120,0.65)", width=1, smoothing=1),
    ))

    # ---- row texts
    annotations.append(dict(text=ROW_LABELS[r], x=px(12), y=py(top + MAP_H / 2),
                            textangle=-90, font=dict(size=11)))
    annotations.append(dict(text="Pressure [hPa]",
                            x=px(686 if last else 691),
                            y=py((SF_TOP + SF_BOT) / 2 + ROW_STEP * r),
                            textangle=-90, font=dict(size=10.5)))
    annotations.append(dict(text="Streamfunction<br>[×10<sup>11</sup>kg/s]",
                            x=px(952), y=py((SF_TOP + SF_BOT) / 2 + ROW_STEP * r),
                            textangle=-90, font=dict(size=11)))

# ---- titles
annotations.append(dict(
    text="THAI TRAPPIST-1e ExoPlaSim Benchmark, 'Hab2', Lander-Hoskins Filter",
    x=px(484), y=py(12), font=dict(size=13.8)))
for c, t in enumerate(PANEL_TITLES):
    annotations.append(dict(text=t, x=px(MAP_LEFT[c] + MAP_W / 2), y=py(55),
                            font=dict(size=10.8)))
annotations.append(dict(text="Synchronous Streamfunction", x=px(795), y=py(37),
                        font=dict(size=10.8)))
annotations.append(dict(text="Synchronous Latitude [deg]", x=px(795), y=py(847),
                        font=dict(size=10.8)))

for a in annotations:
    a.update(xref="paper", yref="paper", showarrow=False,
             xanchor="center", yanchor="middle")
    a["font"].update(family=FONT, color="black")

fig.update_layout(
    width=W, height=H,
    margin=dict(l=0, r=0, t=0, b=0),
    paper_bgcolor="white", plot_bgcolor="white",
    showlegend=False,
    shapes=shapes, annotations=annotations,
    font=dict(family=FONT, color="black"),
    **layout,
)

# the page's default 8px body margin would push the figure off its 969x859 window
fig.write_html("out.html", config={"displayModeBar": False},
               post_script="document.body.style.margin = '0px';")
